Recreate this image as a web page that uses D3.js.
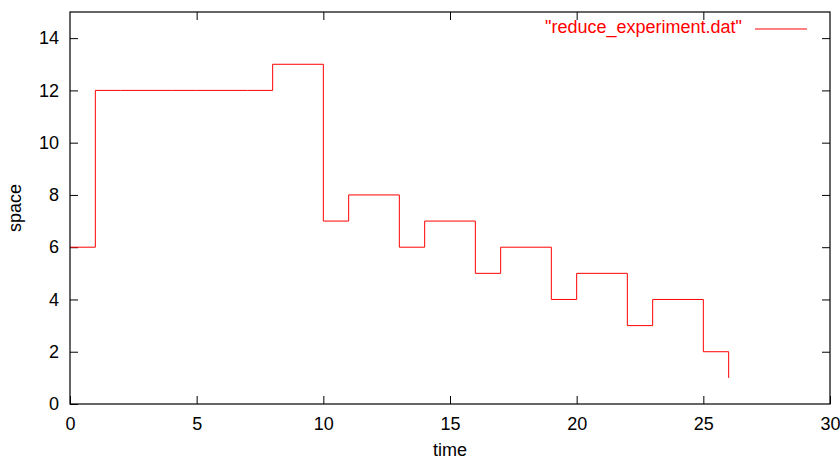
<!DOCTYPE html>
<html>
<head>
<meta charset="utf-8">
<script src="https://cdn.jsdelivr.net/npm/d3@7"></script>
<style>
  body { margin: 0; background: #fff; }
  text { font-family: "Liberation Sans", Arial, sans-serif; font-size: 18px; fill: #000; }
</style>
</head>
<body>
<svg id="chart" width="840" height="456"></svg>
<script>
// step data, one point per time unit
var times  = d3.range(0, 27);
var spaces = [6, 12, 12, 12, 12, 12, 12, 12, 13, 13, 7, 8, 8, 6, 7, 7, 5, 6, 6, 4, 5, 5, 3, 4, 4, 2, 1];
var xTicks = [0, 5, 10, 15, 20, 25, 30];
var yTicks = [0, 2, 4, 6, 8, 10, 12, 14];
var seriesName = '"reduce_experiment.dat"';

var margin = {top: 12, right: 10, bottom: 52, left: 70},
    width = 840 - margin.left - margin.right,
    height = 456 - margin.top - margin.bottom;

var svg = d3.select("#chart")
  .append("g")
    .attr("transform", "translate(" + margin.left + "," + margin.top + ")");

var xScale = d3.scaleLinear().domain([0, 30]).range([0, width]);
var yScale = d3.scaleLinear().domain([0, 15]).range([height, 0]);

// ticks pointing inward on all four sides (gnuplot style)
function tickAxis(axis, tf) {
  var g = svg.append("g").attr("transform", tf).call(axis);
  g.select(".domain").remove();
  g.selectAll("line").attr("stroke", "#000");
  g.selectAll("text").attr("font-size", null).attr("font-family", null);
  return g;
}
tickAxis(d3.axisBottom(xScale).tickValues(xTicks).tickSize(-8).tickPadding(13), "translate(0," + height + ")");
tickAxis(d3.axisLeft(yScale).tickValues(yTicks).tickSize(-8).tickPadding(11), "translate(0,0)");
tickAxis(d3.axisTop(xScale).tickValues(xTicks.slice(1, -1)).tickSize(-8).tickFormat(""), "translate(0,0)");
tickAxis(d3.axisRight(yScale).tickValues(yTicks.slice(1)).tickSize(-8).tickFormat(""), "translate(" + width + ",0)");

// legend
var legendY = 17;
svg.append("text")
  .attr("x", 672).attr("y", legendY + 4)
  .attr("text-anchor", "end")
  .style("fill", "#f00")
  .text(seriesName);
svg.append("line")
  .attr("x1", 685).attr("x2", 737)
  .attr("y1", legendY).attr("y2", legendY)
  .attr("stroke", "#f00").attr("stroke-width", 1);

// the series
var line = d3.line()
  .x(function(d, i) { return xScale(times[i]); })
  .y(function(d) { return yScale(d); })
  .curve(d3.curveStepAfter);

svg.append("path")
  .datum(spaces)
  .attr("d", line)
  .attr("fill", "none")
  .attr("stroke", "#f00")
  .attr("stroke-width", 1);

// frame
svg.append("rect")
  .attr("x", 0).attr("y", 0)
  .attr("width", width).attr("height", height)
  .attr("fill", "none").attr("stroke", "#000").attr("stroke-width", 1.2);

// axis titles
svg.append("text")
  .attr("x", width / 2).attr("y", height + 52)
  .attr("text-anchor", "middle")
  .text("time");
svg.append("text")
  .attr("transform", "translate(-49," + (height / 2) + ") rotate(-90)")
  .attr("text-anchor", "middle")
  .text("space");
</script>
</body>
</html>
